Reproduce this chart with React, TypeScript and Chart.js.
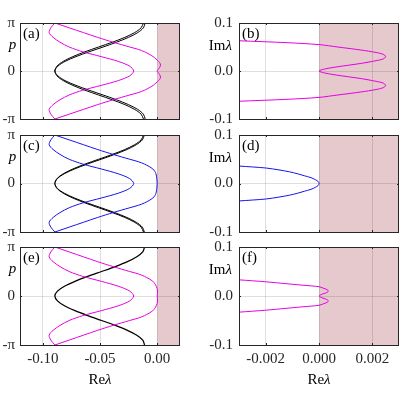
import { useEffect, useRef } from "react";
import { Chart, registerables } from "chart.js";

Chart.register(...registerables);

const PI = Math.PI;
const SERIF = "'Liberation Serif', 'Times New Roman', serif";
const INK = "#262626";
const MAGENTA = "rgb(228, 0, 228)";
const BLUE = "rgb(20, 20, 235)";
const BLACK = "#000000";
const SHADE = "rgb(230, 201, 204)";
const GRID = "rgba(38, 38, 38, 0.15)";
const FONT_SIZE = 15;

// ---------- band structure Re(lambda) vs p, sampled on p/pi in [0, 1] ----------
const BLACK_P = [0, 0.1, 0.2, 0.3, 0.4, 0.5, 0.6, 0.7, 0.8, 0.9, 1.0];
const BLACK_RE_A1 = [-0.0895, -0.0877, -0.0822, -0.0737, -0.0632, -0.0512, -0.0392, -0.0283, -0.0197, -0.014, -0.012];
const BLACK_RE_A2 = [-0.0895, -0.0869, -0.0806, -0.071, -0.0596, -0.0473, -0.0355, -0.0251, -0.017, -0.012, -0.0105];
const BLACK_RE_C2 = [-0.0895, -0.0873, -0.0813, -0.0722, -0.0612, -0.049, -0.0371, -0.0265, -0.0182, -0.0129, -0.0112];
const BLACK_RE_E = [-0.0895, -0.0872, -0.0811, -0.0719, -0.0607, -0.0485, -0.0366, -0.026, -0.0178, -0.0126, -0.011];

const BAND1_P = [0, 0.1, 0.2, 0.3, 0.4, 0.5, 0.6, 0.7, 0.8, 0.9, 1.0];
const BAND1_RE = [-0.0205, -0.024, -0.034, -0.049, -0.065, -0.077, -0.085, -0.091, -0.0945, -0.093, -0.0895];

const BAND2_P = [0, 0.05, 0.1, 0.15, 0.2, 0.25, 0.3, 0.35, 0.4, 0.45, 0.5, 0.6, 0.7, 0.8, 0.9, 1.0];
const BAND2_RE_A = [0, 0.0015, 0.0027, 0.0028, 0.0012, -0.001, -0.0035, -0.007, -0.011, -0.0165, -0.024, -0.0386, -0.052, -0.0645, -0.077, -0.0895];
const BAND2_RE_C = [0, -0.0001, -0.0003, -0.0006, -0.001, -0.002, -0.0038, -0.007, -0.011, -0.0165, -0.024, -0.0386, -0.052, -0.0645, -0.077, -0.0895];
const BAND2_RE_E = [0, 0.0003, 0.0003, 0.0, -0.0008, -0.002, -0.0038, -0.007, -0.011, -0.0165, -0.024, -0.0386, -0.052, -0.0645, -0.077, -0.0895];

// ---------- spectrum near the origin: Im(lambda) >= 0 half, mirrored ----------
const SPEC_B_IM = [0, 0.004, 0.008, 0.012, 0.016, 0.02, 0.025, 0.03, 0.035, 0.04, 0.045, 0.05, 0.055, 0.059, 0.063];
const SPEC_B_RE = [0, 0.0002, 0.0006, 0.0011, 0.0016, 0.002, 0.0024, 0.0025, 0.0024, 0.002, 0.0014, 0.0007, 0.0, -0.0012, -0.003];
const SPEC_D_IM = [0, 0.004, 0.008, 0.012, 0.016, 0.02, 0.024, 0.028, 0.032, 0.036];
const SPEC_D_RE = [0, -0.00003, -0.00014, -0.0003, -0.00055, -0.0008, -0.0011, -0.0015, -0.002, -0.003];
const SPEC_F_IM = [0, 0.002, 0.004, 0.006, 0.008, 0.01, 0.012, 0.014, 0.016, 0.019, 0.022, 0.025, 0.029, 0.033];
const SPEC_F_RE = [0, 0.00005, 0.00013, 0.00024, 0.00032, 0.00035, 0.00033, 0.00026, 0.00016, 0.0, -0.0006, -0.0012, -0.002, -0.003];

// ---------- axes ----------
const BAND_X_RANGE = [-0.12, 0.02];
const BAND_X_TICKS = [-0.1, -0.05, 0.0];
const BAND_Y_TICKS = [-PI, 0, PI];
const BAND_Y_LABELS = ["-π", "0", "π"];
const SPEC_X_RANGE = [-0.003, 0.003];
const SPEC_X_TICKS = [-0.002, 0.0, 0.002];
const SPEC_Y_RANGE = [-0.1, 0.1];
const SPEC_Y_TICKS = [-0.1, 0.0, 0.1];

type Pt = { x: number; y: number };

// bands are even in p: list p from -pi to pi
function evenInP(pFrac: number[], re: number[]): Pt[] {
  const pts: Pt[] = [];
  for (let i = pFrac.length - 1; i > 0; i--) pts.push({ x: re[i], y: -pFrac[i] * PI });
  for (let i = 0; i < pFrac.length; i++) pts.push({ x: re[i], y: pFrac[i] * PI });
  return pts;
}

// spectra are symmetric under Im -> -Im
function evenInIm(im: number[], re: number[]): Pt[] {
  const pts: Pt[] = [];
  for (let i = im.length - 1; i > 0; i--) pts.push({ x: re[i], y: -im[i] });
  for (let i = 0; i < im.length; i++) pts.push({ x: re[i], y: im[i] });
  return pts;
}

interface Curve {
  points: Pt[];
  color: string;
  width: number;
}

interface PanelSpec {
  tag: string;
  kind: "band" | "spec";
  left: number;
  top: number;
  right: number;
  bottom: number;
  showXTicks: boolean;
  curves: Curve[];
}

const COL_LEFT = [20, 239];
const COL_RIGHT = [180, 399];
const ROW_TOP = [23, 135, 247];
const ROW_BOTTOM = [119, 232, 345];

function place(tag: string, kind: "band" | "spec", row: number, curves: Curve[]): PanelSpec {
  const col = kind === "band" ? 0 : 1;
  return {
    tag,
    kind,
    left: COL_LEFT[col],
    right: COL_RIGHT[col],
    top: ROW_TOP[row],
    bottom: ROW_BOTTOM[row],
    showXTicks: row === 2,
    curves,
  };
}

const PANELS: PanelSpec[] = [
  place("(a)", "band", 0, [
    { points: evenInP(BAND1_P, BAND1_RE), color: MAGENTA, width: 1 },
    { points: evenInP(BAND2_P, BAND2_RE_A), color: MAGENTA, width: 1 },
    { points: evenInP(BLACK_P, BLACK_RE_A1), color: BLACK, width: 1 },
    { points: evenInP(BLACK_P, BLACK_RE_A2), color: BLACK, width: 1 },
  ]),
  place("(b)", "spec", 0, [{ points: evenInIm(SPEC_B_IM, SPEC_B_RE), color: MAGENTA, width: 1 }]),
  place("(c)", "band", 1, [
    { points: evenInP(BAND1_P, BAND1_RE), color: BLUE, width: 1 },
    { points: evenInP(BAND2_P, BAND2_RE_C), color: BLUE, width: 1 },
    { points: evenInP(BLACK_P, BLACK_RE_A1), color: BLACK, width: 1 },
    { points: evenInP(BLACK_P, BLACK_RE_C2), color: BLACK, width: 1 },
  ]),
  place("(d)", "spec", 1, [{ points: evenInIm(SPEC_D_IM, SPEC_D_RE), color: BLUE, width: 1 }]),
  place("(e)", "band", 2, [
    { points: evenInP(BAND1_P, BAND1_RE), color: MAGENTA, width: 1 },
    { points: evenInP(BAND2_P, BAND2_RE_E), color: MAGENTA, width: 1 },
    { points: evenInP(BLACK_P, BLACK_RE_E), color: BLACK, width: 1.3 },
  ]),
  place("(f)", "spec", 2, [{ points: evenInIm(SPEC_F_IM, SPEC_F_RE), color: MAGENTA, width: 1 }]),
];

function font(style: string) {
  return `${style} ${FONT_SIZE}px ${SERIF}`;
}

// draws "roman" followed by an italic symbol, anchored by align
function drawMixed(ctx: CanvasRenderingContext2D, roman: string, italic: string, x: number, y: number, align: "center" | "right") {
  ctx.font = font("normal");
  const w1 = ctx.measureText(roman).width;
  ctx.font = font("italic");
  const w2 = ctx.measureText(italic).width;
  const total = w1 + w2;
  const x0 = align === "center" ? x - total / 2 : x - total;
  ctx.textAlign = "left";
  ctx.textBaseline = "alphabetic";
  ctx.font = font("normal");
  ctx.fillText(roman, x0, y);
  ctx.font = font("italic");
  ctx.fillText(italic, x0 + w1, y);
}

function decorPlugin(spec: PanelSpec) {
  return {
    id: "panelDecor",
    beforeDraw(chart: any) {
      const { ctx, chartArea } = chart;
      const x0 = chart.scales.x.getPixelForValue(0);
      ctx.save();
      ctx.fillStyle = SHADE;
      ctx.fillRect(x0, chartArea.top, chartArea.right - x0, chartArea.bottom - chartArea.top);
      ctx.restore();
    },
    afterDraw(chart: any) {
      const { ctx, chartArea } = chart;
      const { left, right, top, bottom } = chartArea;
      const xs = chart.scales.x;
      const ys = chart.scales.y;
      ctx.save();
      ctx.strokeStyle = INK;
      ctx.lineWidth = 1;
      ctx.strokeRect(Math.round(left) + 0.5, Math.round(top) + 0.5, Math.round(right - left) - 1, Math.round(bottom - top));
      const tl = 2;
      ctx.beginPath();
      for (const t of xs.ticks) {
        const px = Math.round(xs.getPixelForValue(t.value)) + 0.5;
        ctx.moveTo(px, top);
        ctx.lineTo(px, top + tl);
        ctx.moveTo(px, bottom);
        ctx.lineTo(px, bottom - tl);
      }
      for (const t of ys.ticks) {
        const py = Math.round(ys.getPixelForValue(t.value)) + 0.5;
        ctx.moveTo(left, py);
        ctx.lineTo(left + tl, py);
        ctx.moveTo(right, py);
        ctx.lineTo(right - tl, py);
      }
      ctx.stroke();

      ctx.fillStyle = "#000";
      ctx.textAlign = "left";
      ctx.textBaseline = "alphabetic";
      ctx.font = font("normal");
      ctx.fillText(spec.tag, left + 3, top + 14.5);

      if (spec.kind === "band") {
        ctx.font = font("italic");
        ctx.textAlign = "center";
        ctx.fillText("p", 12.5, top + 26);
      } else {
        drawMixed(ctx, "Im", "λ", left - 7, top + 27, "right");
      }
      if (spec.showXTicks) {
        drawMixed(ctx, "Re", "λ", (left + right) / 2, 384, "center");
      }
      ctx.restore();
    },
  };
}

function buildChart(canvas: HTMLCanvasElement, spec: PanelSpec) {
  const isBand = spec.kind === "band";
  const yW = isBand ? 20 : 40;
  const xH = spec.showXTicks ? 40 : 0;
  const xRange = isBand ? BAND_X_RANGE : SPEC_X_RANGE;
  const xTicks = isBand ? BAND_X_TICKS : SPEC_X_TICKS;
  const xDigits = isBand ? 2 : 3;
  const tickFont = { family: SERIF, size: FONT_SIZE };

  return new Chart(canvas, {
    type: "scatter",
    data: {
      datasets: spec.curves.map((c) => ({
        data: c.points,
        showLine: true,
        borderColor: c.color,
        backgroundColor: c.color,
        borderWidth: c.width,
        pointRadius: 0,
        pointHoverRadius: 0,
        tension: 0.3,
        fill: false,
      })),
    },
    options: {
      responsive: false,
      animation: false,
      devicePixelRatio: 1,
      events: [],
      layout: {
        padding: {
          left: spec.left - yW,
          top: spec.top,
          right: 400 - spec.right,
          bottom: 400 - spec.bottom - xH,
        },
      },
      plugins: {
        legend: { display: false },
        tooltip: { enabled: false },
        title: { display: false },
      },
      scales: {
        x: {
          type: "linear",
          min: xRange[0],
          max: xRange[1],
          afterBuildTicks: (s: any) => {
            s.ticks = xTicks.map((v) => ({ value: v }));
          },
          afterFit: (s: any) => {
            s.height = xH;
          },
          grid: { color: GRID, lineWidth: 1, drawTicks: false },
          border: { display: false },
          ticks: {
            display: spec.showXTicks,
            padding: 5,
            color: INK,
            font: tickFont,
            maxRotation: 0,
            autoSkip: false,
            callback: (v: any) => Number(v).toFixed(xDigits),
          },
        },
        y: {
          type: "linear",
          min: isBand ? -PI : SPEC_Y_RANGE[0],
          max: isBand ? PI : SPEC_Y_RANGE[1],
          afterBuildTicks: (s: any) => {
            s.ticks = (isBand ? BAND_Y_TICKS : SPEC_Y_TICKS).map((v) => ({ value: v }));
          },
          afterFit: (s: any) => {
            s.width = yW;
          },
          grid: { color: GRID, lineWidth: 1, drawTicks: false },
          border: { display: false },
          ticks: {
            padding: isBand ? 5 : 6,
            color: INK,
            font: tickFont,
            autoSkip: false,
            callback: (v: any) => {
              const n = Number(v);
              if (isBand) return BAND_Y_LABELS[n < -1 ? 0 : n > 1 ? 2 : 1];
              return n.toFixed(1);
            },
          },
        },
      },
    },
    plugins: [decorPlugin(spec)],
  } as any);
}

export default function App() {
  const refs = useRef<(HTMLCanvasElement | null)[]>([]);

  useEffect(() => {
    const charts = PANELS.map((spec, i) => buildChart(refs.current[i] as HTMLCanvasElement, spec));
    return () => charts.forEach((c) => c.destroy());
  }, []);

  return (
    <div style={{ position: "fixed", left: 0, top: 0, width: 400, height: 400, background: "#ffffff" }}>
      {PANELS.map((p, i) => (
        <canvas
          key={p.tag}
          ref={(el) => {
            refs.current[i] = el;
          }}
          width={400}
          height={400}
          style={{ position: "absolute", left: 0, top: 0, width: 400, height: 400 }}
        />
      ))}
    </div>
  );
}
